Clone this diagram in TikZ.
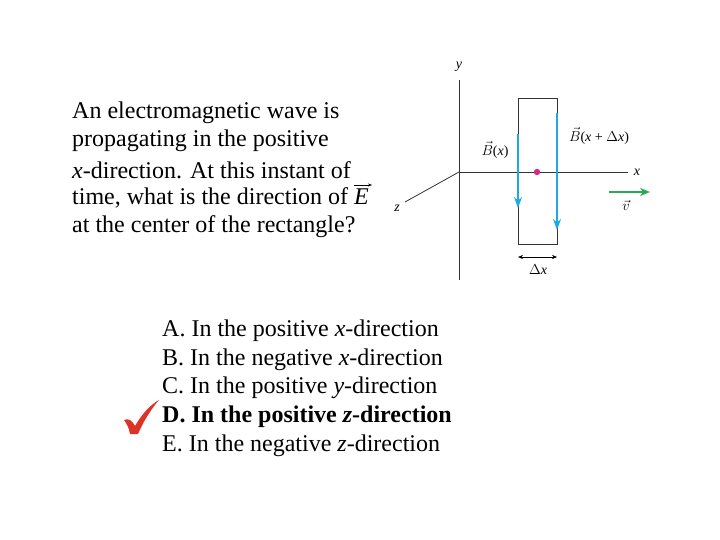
\documentclass[tikz,border=0pt]{standalone}
\usepackage{fontspec}
\setmainfont{Liberation Serif}
\usetikzlibrary{arrows.meta}
\begin{document}
\begin{tikzpicture}[x=1pt,y=-1pt,
  ax/.style={line width=0.8pt,black!80},
  barr/.style={line width=1.8pt,color={rgb,255:red,30;green,170;blue,225},-{Stealth[length=11pt,width=8pt]}},
  lbl/.style={font=\fontsize{14}{16}\selectfont,inner sep=0pt},
  txt/.style={font=\fontsize{24}{28.5}\selectfont,inner sep=0pt,anchor=west}]
\useasboundingbox (0,0) rectangle (720,540);
\coordinate (o) at (459,172);
\coordinate (ytop) at (459,80);
\coordinate (ybot) at (459,280);
\coordinate (xend) at (628,172);
\coordinate (zend) at (405,202);
\draw[ax] (ytop) -- (ybot);
\draw[ax] (o) -- (xend);
\draw[ax] (o) -- (zend);
\node[lbl] (ylab) at (459,67) {\itshape y};
\node[lbl] (xlab) at (637,172) {\itshape x};
\node[lbl] (zlab) at (397,208) {\itshape z};
\draw[ax,line width=1pt] (518,99) rectangle (557,244);
\coordinate (l1) at (518,134); \coordinate (l2) at (518,208);
\coordinate (r1) at (557,113); \coordinate (r2) at (557,230);
\draw[barr] (l1) -- (l2);
\draw[barr] (r1) -- (r2);
\fill[color={rgb,255:red,220;green,40;blue,130}] (537,172) circle (3.2pt);
\coordinate (v1) at (609,192); \coordinate (v2) at (650,192);
\draw[line width=1.8pt,color={rgb,255:red,40;green,170;blue,80},-{Stealth[length=10pt,width=8pt]}] (v1) -- (v2);
\node[lbl] (vl) at (626,205) {$\vec v$};
\node[lbl] (bx) at (495,150) {$\vec B$(\textit{x})};
\node[lbl] (bdx) at (599,136) {$\vec B$(\textit{x} + $\Delta$\textit{x})};
\coordinate (d1) at (518,257); \coordinate (d2) at (557,257);
\draw[{Stealth[length=5pt,width=4pt]}-{Stealth[length=5pt,width=4pt]},line width=0.6pt] (d1) -- (d2);
\node[lbl] (dx) at (538,270) {$\Delta$\textit{x}};
\node[txt] (q1) at (72,113) {An electromagnetic wave is};
\node[txt] (q2) at (72,141) {propagating in the positive};
\node[txt] (q3) at (72,170) {\textit{x}-direction. At this instant of};
\node[txt] (q4) at (72,198) {time, what is the direction of \textit{E}};
\draw[line width=0.7pt,-{Stealth[length=4pt]}] (354,185) -- (372,185);
\node[txt] (q5) at (72,227) {at the center of the rectangle?};
\node[txt] (a) at (162,331) {A. In the positive \textit{x}-direction};
\node[txt] (b) at (162,360) {B. In the negative \textit{x}-direction};
\node[txt] (c) at (162,388) {C. In the positive \textit{y}-direction};
\node[txt] (d) at (162,417) {\bfseries D. In the positive \textit{z}-direction};
\node[txt] (e) at (162,446) {E. In the negative \textit{z}-direction};
\fill[color={rgb,255:red,220;green,50;blue,40}] (124,420) .. controls (128,418) and (132,420) .. (135,426)
  .. controls (142,414) and (150,405) .. (159,400) .. controls (152,408) and (144,420) .. (138,434)
  .. controls (134,434) and (132,434) .. (130,434) .. controls (129,428) and (127,424) .. (124,420) -- cycle;
\end{tikzpicture}
\end{document}
